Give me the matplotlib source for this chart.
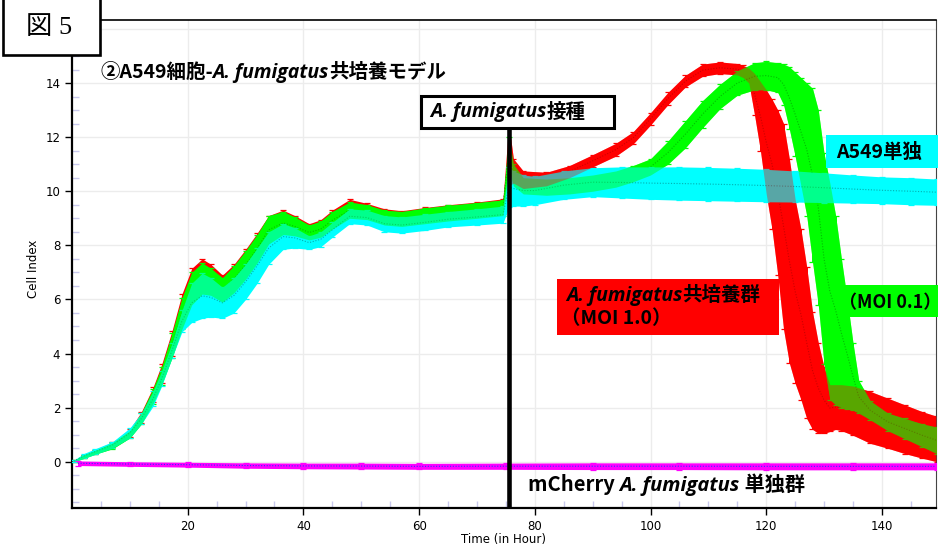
import numpy as np
import matplotlib.pyplot as plt
from matplotlib.patches import Rectangle

# ---- データ ----
t_pre = [0.3, 2, 4, 7, 10, 12, 14, 15.5, 17.3, 19, 20.7, 22.5, 24, 26, 28, 30,
         32, 34, 36.5, 38.5, 41, 43, 45, 48, 51, 54, 57, 61, 65, 70, 74.5]

red_pre_hi = [0.05, 0.25, 0.45, 0.72, 1.2, 1.85, 2.75, 3.6, 4.85, 6.2, 7.15, 7.5, 7.3, 6.9, 7.3, 7.85,
              8.45, 9.1, 9.3, 9.1, 8.8, 8.95, 9.3, 9.7, 9.55, 9.35, 9.28, 9.4, 9.5, 9.6, 9.72]
red_pre_lo = [0.0, 0.15, 0.3, 0.5, 0.9, 1.45, 2.2, 2.9, 3.9, 5.0, 5.9, 6.3, 6.25, 6.0, 6.3, 6.8,
              7.4, 8.1, 8.5, 8.45, 8.25, 8.35, 8.65, 9.05, 9.0, 8.8, 8.75, 8.85, 8.95, 9.05, 9.15]
green_pre_hi = [0.05, 0.25, 0.42, 0.7, 1.15, 1.8, 2.7, 3.5, 4.75, 6.05, 7.0, 7.35, 7.15, 6.8, 7.25, 7.8,
                8.4, 9.1, 9.25, 9.05, 8.75, 8.9, 9.25, 9.6, 9.5, 9.3, 9.25, 9.38, 9.48, 9.58, 9.68]
green_pre_lo = [0.0, 0.12, 0.28, 0.48, 0.88, 1.4, 2.15, 2.85, 3.85, 4.9, 5.8, 6.2, 6.15, 5.9, 6.25, 6.75,
                7.35, 8.05, 8.4, 8.35, 8.2, 8.3, 8.6, 9.0, 8.95, 8.75, 8.7, 8.8, 8.9, 9.0, 9.1]
cyan_pre_hi = [0.05, 0.3, 0.48, 0.74, 1.25, 1.8, 2.6, 3.35, 4.4, 5.6, 6.6, 6.97, 6.8, 6.45, 6.8, 7.3,
               7.9, 8.5, 8.8, 8.65, 8.35, 8.5, 8.85, 9.35, 9.3, 9.1, 9.05, 9.15, 9.25, 9.35, 9.45]
cyan_pre_lo = [0.0, 0.12, 0.27, 0.5, 0.88, 1.4, 2.05, 2.8, 3.85, 4.8, 5.15, 5.3, 5.35, 5.3, 5.5, 6.0,
               6.6, 7.3, 7.85, 7.9, 7.85, 7.95, 8.3, 8.8, 8.75, 8.5, 8.45, 8.55, 8.68, 8.75, 8.82]

# A. fumigatus 共培養群 (MOI 1.0)
t_red_post = [75.5, 76.3, 78, 82, 86, 90, 94, 97, 100, 103, 106, 109, 112, 115, 116, 117, 118, 119,
              120, 121, 122, 123, 124, 125, 126, 127, 128, 129, 130, 131, 132, 133, 135, 138, 141,
              144, 147, 149.5]
red_post_hi = [12.5, 11.2, 10.75, 10.7, 10.95, 11.35, 11.77, 12.2, 12.9, 13.65, 14.28, 14.7, 14.78,
               14.72, 14.65, 14.55, 14.35, 14.05, 13.75, 13.4, 13.0, 12.5, 11.2, 9.7, 8.6, 7.2, 5.55,
               4.4, 3.5, 2.85, 2.85, 2.85, 2.8, 2.6, 2.35, 2.1, 1.85, 1.68]
red_post_lo = [10.2, 10.3, 10.1, 10.2, 10.5, 10.9, 11.3, 11.75, 12.45, 13.2, 13.85, 14.25, 14.35,
               14.3, 14.2, 14.0, 12.8, 11.5, 9.9, 8.6, 6.9, 4.9, 3.65, 2.9, 2.3, 1.6, 1.2, 1.05,
               1.05, 1.12, 1.2, 1.15, 0.98, 0.68, 0.5, 0.3, 0.13, 0.0]

# MOI 0.1
t_green_post = [75.5, 76.3, 78, 82, 86, 90, 94, 97, 100, 103, 106, 109, 112, 115, 118, 120, 122,
                123, 124, 125, 126, 127, 128, 129, 130, 131, 132, 133, 134, 135, 136, 138, 141, 144,
                147, 149.5]
green_post_hi = [12.0, 11.0, 10.5, 10.45, 10.5, 10.6, 10.75, 10.95, 11.2, 11.85, 12.6, 13.35, 13.95,
                 14.45, 14.75, 14.8, 14.75, 14.7, 14.6, 14.4, 14.2, 14.0, 13.8, 13.0, 11.4, 10.3,
                 9.1, 7.5, 6.0, 4.4, 3.0, 2.25, 1.8, 1.6, 1.4, 1.28]
green_post_lo = [10.8, 10.2, 9.9, 9.85, 9.9, 10.0, 10.15, 10.35, 10.6, 11.0, 11.6, 12.35, 13.05,
                 13.55, 13.75, 13.75, 13.65, 13.2, 12.3, 11.3, 10.2, 9.1, 7.4, 5.8, 3.6, 2.3, 2.1,
                 2.0, 1.95, 1.9, 1.8, 1.55, 1.15, 0.85, 0.55, 0.3]

# A549単独
t_cyan_post = [75.5, 76.3, 78, 80, 85, 90, 95, 100, 105, 110, 115, 120, 125, 130, 135, 140, 145, 149.5]
cyan_post_hi = [10.9, 10.75, 10.6, 10.55, 10.75, 10.87, 10.9, 10.9, 10.9, 10.88, 10.85, 10.81,
                10.75, 10.68, 10.6, 10.53, 10.5, 10.45]
cyan_post_lo = [9.4, 9.45, 9.45, 9.5, 9.7, 9.8, 9.75, 9.7, 9.67, 9.65, 9.63, 9.61, 9.6, 9.58,
                9.56, 9.54, 9.5, 9.48]

# mCherry A. fumigatus 単独群
t_mag = [1.0, 10, 20, 30, 40, 50, 60, 75, 90, 105, 120, 135, 149.5]
mag_hi = [0.03, 0.0, -0.02, -0.04, -0.05, -0.05, -0.06, -0.05, -0.04, -0.04, -0.04, -0.04, -0.04]
mag_lo = [-0.14, -0.17, -0.2, -0.24, -0.26, -0.27, -0.28, -0.28, -0.29, -0.29, -0.3, -0.3, -0.3]

inoc_hour = 75.5

W, H = 941, 548
fig = plt.figure(figsize=(W / 100, H / 100), dpi=100)
ax = fig.add_axes([72 / W, 1 - 508 / H, (936 - 72) / W, (508 - 20) / H])
ax.set_xlim(0, 149.35)
ax.set_ylim(-1.71, 16.33)


def band(t, lo, hi, color, dot, z):
    t, lo, hi = np.asarray(t), np.asarray(lo), np.asarray(hi)
    mid = (lo + hi) / 2
    ax.fill_between(t, lo, hi, color=color, lw=0, zorder=z)
    ax.errorbar(t, mid, yerr=[mid - lo, hi - mid], fmt='none', ecolor=color,
                elinewidth=0.7, capsize=2.2, capthick=0.9, zorder=z)
    ax.plot(t, mid, ls=(0, (1, 1.5)), color=dot, lw=0.8, zorder=z + 0.1)


red_t = t_pre + t_red_post
red_lo, red_hi = red_pre_lo + red_post_lo, red_pre_hi + red_post_hi
green_t = t_pre + t_green_post
green_lo, green_hi = green_pre_lo + green_post_lo, green_pre_hi + green_post_hi
cyan_t = t_pre + t_cyan_post
cyan_lo, cyan_hi = cyan_pre_lo + cyan_post_lo, cyan_pre_hi + cyan_post_hi

band(red_t, red_lo, red_hi, '#ff0000', '#b00000', 2)
band(green_t, green_lo, green_hi, '#00ff00', '#008800', 3)
band(cyan_t, cyan_lo, cyan_hi, '#00ffff', '#00b0b0', 4)
# 重なり部分の色味
ax.fill_between(green_t, green_lo, green_hi, color='#00ff00', alpha=0.45, lw=0, zorder=4.5)
ax.fill_between(t_red_post, red_post_lo, red_post_hi, color='#ff0000', alpha=0.35, lw=0, zorder=4.6)
band(t_mag, mag_lo, mag_hi, '#ff00ff', '#3030ff', 5)

ax.vlines(inoc_hour, -1.71, 12.37, color='black', lw=3.3, zorder=6)

# 軸
ax.set_xticks(np.arange(20, 141, 20))
ax.set_yticks(np.arange(0, 17, 2))
ax.set_yticklabels([str(v) for v in range(0, 15, 2)] + [''])
ax.set_xticks(np.arange(5, 150, 5), minor=True)
ax.set_yticks(np.arange(-1.5, 16.4, 0.5), minor=True)
ax.tick_params(which='major', direction='out', length=5, width=1, labelsize=8.5, colors='black')
ax.tick_params(which='minor', direction='in', length=5, width=1, color='#c8c8ec')
ax.grid(True, which='major', color='#ececec', lw=1, zorder=0)
ax.set_axisbelow(True)
for s in ['left', 'bottom']:
    ax.spines[s].set_linewidth(1.6)
ax.spines['top'].set_linewidth(1.2)
ax.spines['right'].set_linewidth(0.8)
ax.spines['right'].set_color('#444444')
ax.set_xlabel('Time (in Hour)', fontsize=8.5)
ax.set_ylabel('Cell Index', fontsize=8.5)
ax.yaxis.set_label_coords(-0.037, 0.49)
ax.xaxis.set_label_coords(0.5, -0.052)

renderer = fig.canvas.get_renderer()


def rich(x, base, parts, size):
    for s, italic in parts:
        fam = ['Open Sans', 'DejaVu Sans'] if italic else ['Noto Sans CJK JP', 'DejaVu Sans']
        t = fig.text(x / W, 1 - base / H, s, fontsize=size, fontweight='bold',
                     style='italic' if italic else 'normal', family=fam,
                     ha='left', va='baseline', zorder=20)
        x = t.get_window_extent(renderer).x1


def box(x0, y0, x1, y1, fc, ec='none', lw=0):
    fig.add_artist(Rectangle((x0 / W, 1 - y1 / H), (x1 - x0) / W, (y1 - y0) / H,
                             transform=fig.transFigure, facecolor=fc, edgecolor=ec,
                             lw=lw, zorder=15))


# 図 5
box(3, -5, 100, 55, 'white', 'black', 1.9)
fig.text(26 / W, 1 - 34.5 / H, '図 5', fontsize=19, family=['Liberation Serif', 'Noto Sans CJK JP'],
         ha='left', va='baseline', zorder=20)

rich(100, 78, [('②A549細胞-', False), ('A. fumigatus', True), ('共培養モデル', False)], 14)

box(421, 96, 614, 127.5, 'white', 'black', 2.2)
rich(430, 117.5, [('A. fumigatus', True), ('接種', False)], 14)

box(826, 135, 938, 168, '#00ffff')
rich(836, 158, [('A549単独', False)], 14)

box(557, 279, 779, 335, '#ff0000')
rich(566, 301, [('A. fumigatus', True), ('共培養群', False)], 14)
rich(561, 324.5, [('（MOI 1.0）', False)], 14)

box(844, 285, 938, 317, '#00ff00')
rich(839, 308, [('（MOI 0.1）', False)], 13)

rich(528, 491, [('mCherry ', False), ('A. fumigatus', True), (' 単独群', False)], 14.5)

fig.savefig('out.png', dpi=100)
